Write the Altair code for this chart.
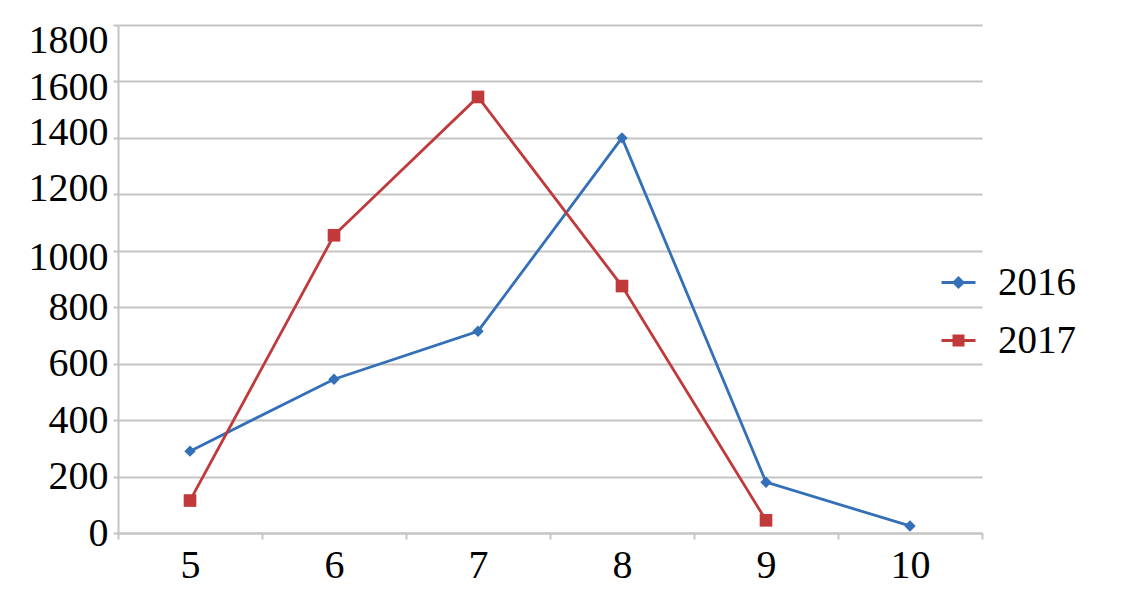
import altair as alt
import pandas as pd

months = ["5", "6", "7", "8", "9", "10"]
series = ["2016", "2017"]
values_2016 = [290, 545, 715, 1400, 180, 25]
values_2017 = [115, 1055, 1545, 875, 45]
y_ticks = [0, 200, 400, 600, 800, 1000, 1200, 1400, 1600, 1800]

colors = ["#3470b8", "#c0393b"]
FONT = "Liberation Serif"

rows = []
for m, v in zip(months, values_2016):
    rows.append({"month": m, "value": v, "series": "2016"})
for m, v in zip(months, values_2017):
    rows.append({"month": m, "value": v, "series": "2017"})
df = pd.DataFrame(rows)

grid = "#c4c4c4"

x = alt.X(
    "month:O",
    sort=months,
    bandPosition=0.5,
    scale=alt.Scale(type="band", domain=months, paddingInner=0, paddingOuter=0),
    axis=alt.Axis(
        title=None, labelAngle=0, tickBand="extent", grid=False,
        domainColor=grid, domainWidth=2, tickColor=grid, tickWidth=2, tickSize=6,
        labelFont=FONT, labelFontSize=40, labelColor="black", labelPadding=6,
    ),
)
y = alt.Y(
    "value:Q",
    scale=alt.Scale(domain=[0, 1800], nice=False),
    axis=alt.Axis(
        title=None, values=y_ticks, format="d", grid=True, gridColor=grid, gridWidth=2,
        domainColor=grid, domainWidth=2, tickColor=grid, tickWidth=2, tickSize=5,
        labelFont=FONT, labelFontSize=40, labelColor="black", labelPadding=5,
        labelOffset={"condition": [
            {"test": "datum.value == 1800", "value": 15},
            {"test": "datum.value == 1600", "value": 6},
            {"test": "datum.value == 1400", "value": -5},
            {"test": "datum.value == 1200", "value": -6},
            {"test": "datum.value == 1000", "value": 7},
        ], "value": 0},
    ),
)

# colour scale for the drawn marks (listed in reverse so its legend, which is
# switched off, is not merged with the visible legend below)
cscale = alt.Scale(domain=series[::-1], range=colors[::-1])

base = alt.Chart(df)

lines = base.mark_line(strokeWidth=2.8).encode(
    x=x, y=y, color=alt.Color("series:N", scale=cscale, legend=None)
)
pts16 = base.transform_filter(alt.datum.series == "2016").mark_point(
    shape="diamond", filled=True, size=130, opacity=1
).encode(x=x, y=y, color=alt.Color("series:N", scale=cscale, legend=None))
pts17 = base.transform_filter(alt.datum.series == "2017").mark_point(
    shape="square", filled=True, size=160, opacity=1
).encode(x=x, y=y, color=alt.Color("series:N", scale=cscale, legend=None))

leg = alt.Legend(
    title=None, orient="none", legendX=821, legendY=238,
    labelFont=FONT, labelFontSize=39, labelColor="black",
    symbolSize=1156, symbolStrokeWidth=2.8, symbolOpacity=1,
    labelOffset=20, rowPadding=18,
)
diamond_path = "M-1,0H1M0,-0.27L0.27,0L0,0.27L-0.27,0Z"
square_path = "M-1,0H1M-0.27,-0.27H0.27V0.27H-0.27Z"

legend_layer = base.mark_point(
    filled=True, opacity=0, strokeWidth=2.8
).encode(
    x=x, y=y,
    fill=alt.Fill("series:N", scale=alt.Scale(domain=series, range=colors), legend=leg),
    stroke=alt.Stroke("series:N", scale=alt.Scale(domain=series, range=colors), legend=leg),
    shape=alt.Shape("series:N", scale=alt.Scale(domain=series, range=[diamond_path, square_path]), legend=leg),
)

chart = alt.layer(lines, pts16, pts17, legend_layer).properties(
    width=864, height=508,
    autosize=alt.AutoSizeParams(type="none"),
    padding={"left": 110, "top": 17, "right": 140, "bottom": 60},
).configure_view(stroke=None)

chart.save("out.html", embed_options={"renderer": "svg", "actions": False})
